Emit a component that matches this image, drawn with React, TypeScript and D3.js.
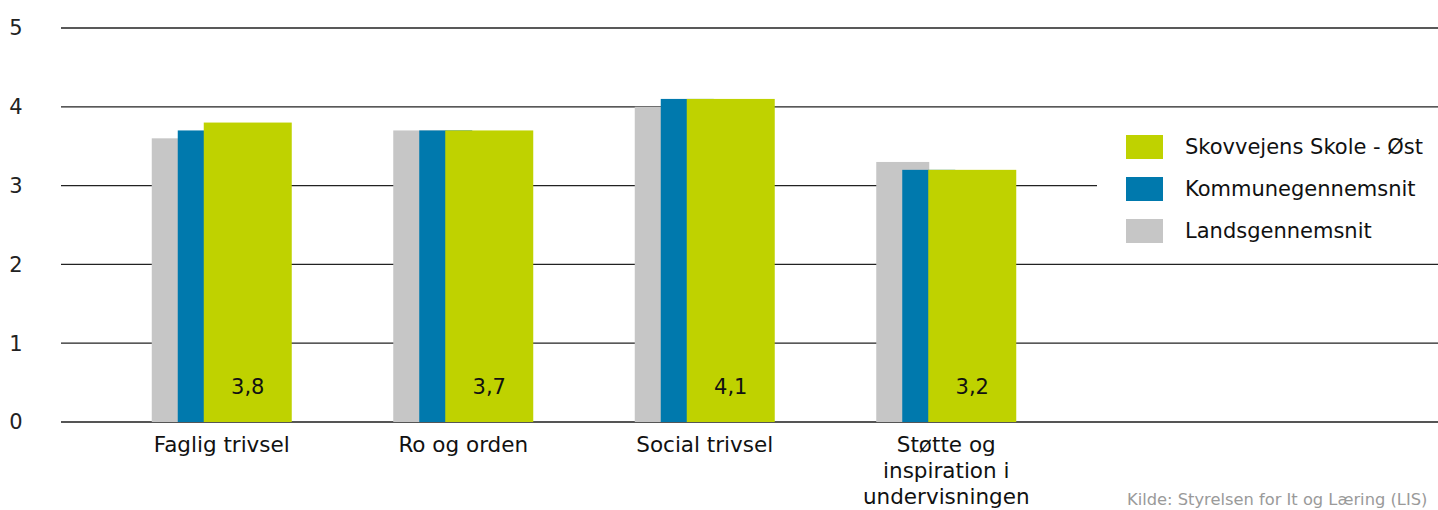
import React from "react";
import * as d3 from "d3";

const categories: string[][] = [
  ["Faglig trivsel"],
  ["Ro og orden"],
  ["Social trivsel"],
  ["Støtte og", "inspiration i", "undervisningen"],
];
const landsValues = [3.6, 3.7, 4.0, 3.3];
const kommuneValues = [3.7, 3.7, 4.1, 3.2];
const skoleValues = [3.8, 3.7, 4.1, 3.2];
const yTicks = [0, 1, 2, 3, 4, 5];
const seriesNames = ["Skovvejens Skole - Øst", "Kommunegennemsnit", "Landsgennemsnit"];
const sourceText = "Kilde: Styrelsen for It og Læring (LIS)";

const W = 1438;
const H = 510;
const GREEN = "#BFD200";
const BLUE = "#0079AD";
const GREY = "#C6C6C6";
const FONT = "'DejaVu Sans', sans-serif";

export default function App() {
  const y = d3.scaleLinear().domain([0, 5]).range([422, 28]);
  const x = d3
    .scaleBand<number>()
    .domain(categories.map((_, i) => i))
    .range([101, 1067])
    .paddingInner(0)
    .paddingOuter(0);
  const fmt = (v: number) => d3.format(".1f")(v).replace(".", ",");

  const legendColors = [GREEN, BLUE, GREY];

  return (
    <div style={{ position: "absolute", left: 0, top: 0, width: W, height: H, overflow: "hidden", background: "#fff" }}>
      <svg width={W} height={H} style={{ display: "block", fontFamily: FONT }}>
        {yTicks.map((t) => (
          <g key={t}>
            <line
              x1={61}
              x2={W}
              y1={y(t)}
              y2={y(t)}
              stroke={t === 0 ? "#555" : "#222"}
              strokeWidth={t === 0 ? 2 : 1.3}
            />
            <text x={16} y={y(t)} dy="0.35em" textAnchor="middle" fontSize={21} fill="#222">
              {t}
            </text>
          </g>
        ))}
        {/* legend background */}
        <rect x={1097} y={118} width={W - 1097} height={138} fill="#fff" />
        {categories.map((lines, i) => {
          const c = (x(i) as number) + x.bandwidth() / 2;
          const g0 = c - 70;
          return (
            <g key={i}>
              <rect x={g0} y={y(landsValues[i])} width={53} height={y(0) - y(landsValues[i])} fill={GREY} />
              <rect x={g0 + 26} y={y(kommuneValues[i])} width={53} height={y(0) - y(kommuneValues[i])} fill={BLUE} />
              <rect x={g0 + 52} y={y(skoleValues[i])} width={88} height={y(0) - y(skoleValues[i])} fill={GREEN} />
              <text x={g0 + 96} y={387} dy="0.35em" textAnchor="middle" fontSize={21} fill="#111">
                {fmt(skoleValues[i])}
              </text>
              {lines.map((l, j) => (
                <text key={j} x={c} y={444 + j * 26} dy="0.35em" textAnchor="middle" fontSize={21.5} fill="#111">
                  {l}
                </text>
              ))}
            </g>
          );
        })}
        {seriesNames.map((n, i) => (
          <g key={n} transform={`translate(1126, ${135 + i * 42})`}>
            <rect width={37} height={24} fill={legendColors[i]} />
            <text x={59} y={12} dy="0.35em" fontSize={21} fill="#111">
              {n}
            </text>
          </g>
        ))}
        <text x={1127} y={499} dy="0.35em" fontSize={16.3} fill="#9a9a9a">
          {sourceText}
        </text>
      </svg>
    </div>
  );
}
